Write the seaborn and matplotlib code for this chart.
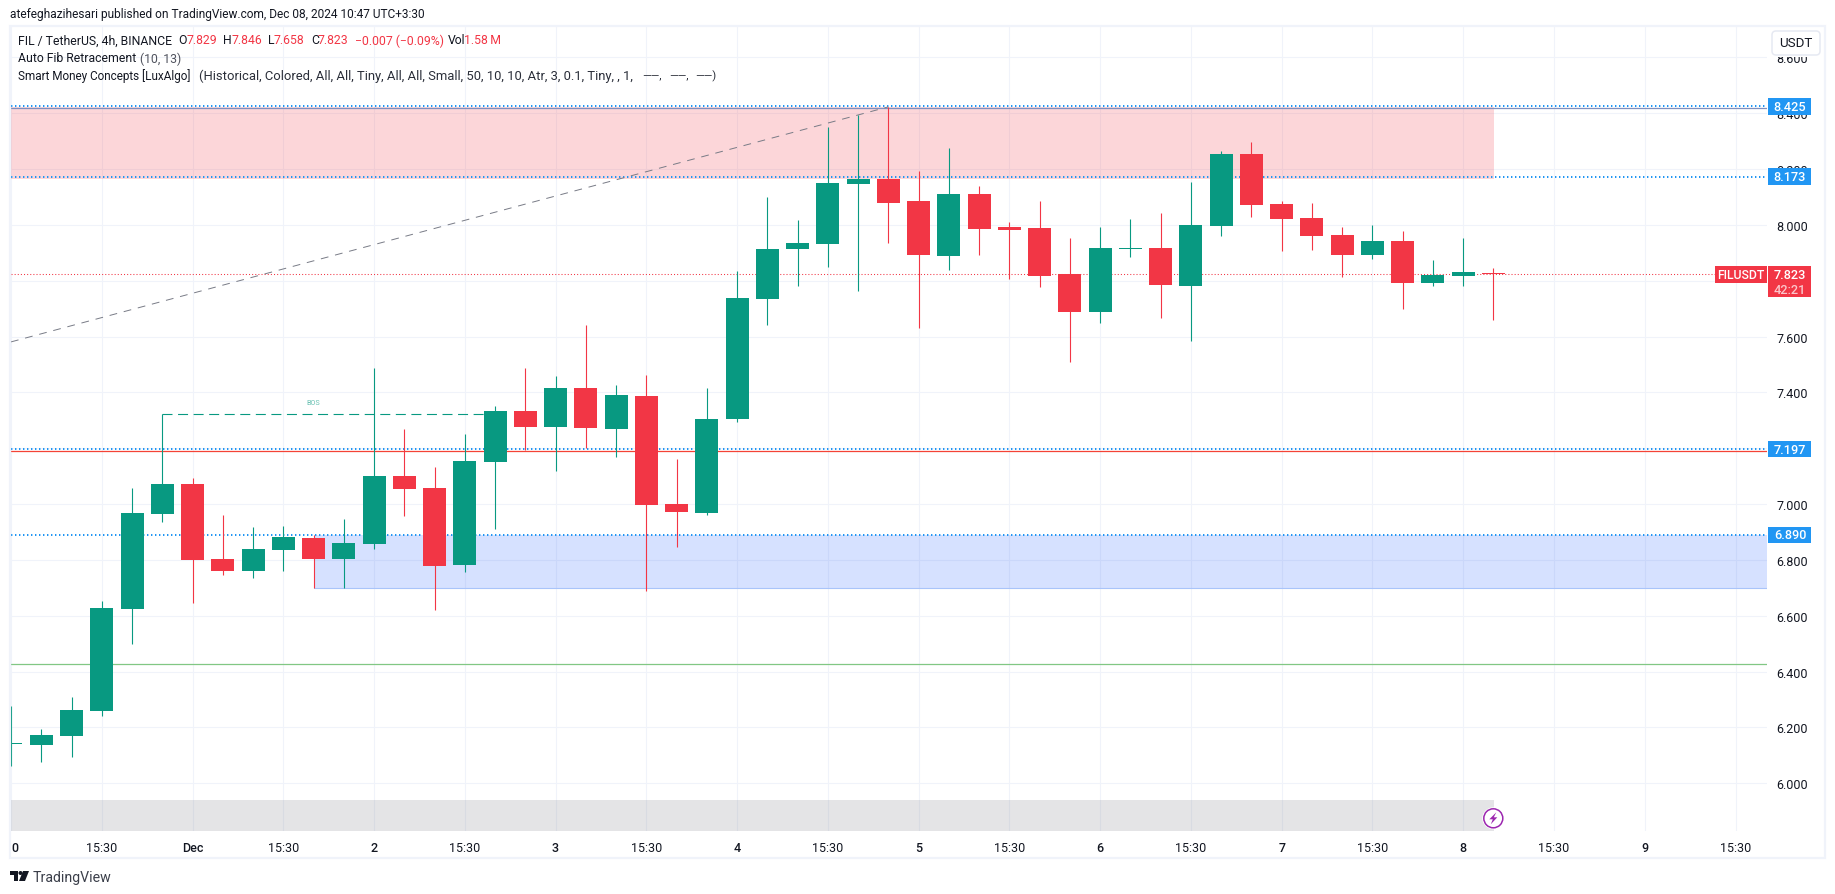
import numpy as np
import pandas as pd
import seaborn as sns
import matplotlib
matplotlib.use("Agg")
import matplotlib.pyplot as plt
from matplotlib.patches import Rectangle, FancyBboxPatch, Circle, Polygon
from matplotlib.transforms import IdentityTransform

opens = [6.140,6.138,6.171,6.260,6.625,6.966,7.072,6.804,6.762,6.837,6.879,6.805,6.857,7.101,7.058,6.782,7.151,
         7.334,7.276,7.416,7.269,7.387,7.001,6.968,7.305,7.735,7.914,7.932,8.147,8.165,8.086,7.889,8.111,7.993,
         7.989,7.824,7.688,7.912,7.918,7.781,7.996,8.254,8.075,8.025,7.964,7.893,7.943,7.792,7.817,7.829]
closes = [6.143,6.173,6.263,6.628,6.968,7.072,6.801,6.762,6.839,6.882,6.805,6.861,7.101,7.054,6.780,7.155,7.334,
          7.276,7.416,7.273,7.391,6.997,6.972,7.305,7.738,7.914,7.936,8.150,8.165,8.079,7.893,8.111,7.986,7.982,
          7.817,7.688,7.918,7.918,7.785,8.000,8.254,8.072,8.021,7.961,7.893,7.943,7.792,7.821,7.832,7.823]
highs = [6.277,6.195,6.309,6.653,7.058,7.322,7.094,6.961,6.918,6.922,6.889,6.947,7.488,7.269,7.133,7.251,7.352,
         7.488,7.459,7.642,7.427,7.463,7.162,7.416,7.835,8.100,8.018,8.351,8.394,8.423,8.193,8.276,8.140,8.011,
         8.086,7.953,7.993,8.021,8.043,8.154,8.265,8.297,8.086,8.079,7.993,8.000,7.979,7.875,7.953,7.846]
lows = [6.063,6.077,6.095,6.242,6.500,6.937,6.647,6.747,6.737,6.762,6.701,6.701,6.839,6.958,6.622,6.757,6.911,
        7.195,7.119,7.201,7.169,6.689,6.847,6.961,7.295,7.642,7.781,7.850,7.764,7.936,7.631,7.839,7.893,7.807,
        7.778,7.509,7.649,7.885,7.667,7.584,7.961,8.029,7.907,7.910,7.814,7.878,7.699,7.781,7.781,7.658]

price_ticks = [8.6, 8.4, 8.2, 8.0, 7.8, 7.6, 7.4, 7.2, 7.0, 6.8, 6.6, 6.4, 6.2, 6.0]
time_pos = [0, 3, 6, 9, 12, 15, 18, 21, 24, 27, 30, 33, 36, 39, 42, 45, 48, 51, 54, 57]
time_labels = ["0", "15:30", "Dec", "15:30", "2", "15:30", "3", "15:30", "4", "15:30", "5", "15:30",
               "6", "15:30", "7", "15:30", "8", "15:30", "9", "15:30"]
supply_zone = (8.423, 8.165)
demand_zone = (6.889, 6.701)
bottom_band = (5.829, 5.940)
dotted_levels = [8.425, 8.173, 7.197, 6.890]
last_price = 7.823
red_level = 7.189
green_level = 6.426
top_level = 8.420
fib_x = [0, 29]
fib_y = [7.581, 8.423]
bos_x = [5, 15.8]
bos_y = [7.322, 7.322]

GREEN, RED, BLUE, INK = "#089981", "#f23645", "#2196f3", "#131722"
GRID = "#f0f3fa"
W, H = 1835, 895
FONT = "Roboto"

sns.set_theme(style="white")
plt.rcParams["font.family"] = [FONT, "DejaVu Sans"]

fig = plt.figure(figsize=(W / 100, H / 100), dpi=100, facecolor="white")
L, R, T, B = 11, 1767, 28, 832
ax = fig.add_axes([L / W, 1 - B / H, (R - L) / W, (B - T) / H])

df = pd.DataFrame({"i": np.arange(len(opens)), "o": opens, "c": closes, "h": highs, "l": lows})
df["up"] = df.c >= df.o
df["base"] = df[["o", "c"]].min(axis=1)
df["size"] = (df.o - df.c).abs()
wicks = df.melt(id_vars=["i", "up"], value_vars=["l", "h"], value_name="price")

sns.lineplot(data=wicks, x="i", y="price", units="i", estimator=None, hue="up",
             palette={True: GREEN, False: RED}, linewidth=0.8, legend=False, ax=ax, zorder=3,
             solid_capstyle="butt", sort=True)
for is_up, col in [(True, GREEN), (False, RED)]:
    sub = df[df.up == is_up]
    sns.barplot(data=sub, x="i", y="size", bottom=sub["base"].values, native_scale=True, orient="x",
                width=0.76, color=col, saturation=1, errorbar=None, linewidth=0, ax=ax, zorder=4)

ax.set_xlim((L - 10.7) / 30.26, (R - 10.7) / 30.26)
ax.set_ylim(5.829, 8.709)
ax.set_xlabel("")
ax.set_ylabel("")
for s in ax.spines.values():
    s.set_visible(False)

ax.set_axisbelow(True)
ax.grid(True, color=GRID, linewidth=0.75)
ax.set_xticks(time_pos, time_labels)
ax.set_yticks(price_ticks, [f"{p:.3f}" for p in price_ticks])
ax.yaxis.tick_right()
ax.tick_params(axis="x", length=0, pad=7, labelsize=9, labelcolor=INK)
ax.tick_params(axis="y", length=0, pad=7, labelsize=9, labelcolor=INK, right=False)
for lab in ax.get_xticklabels():
    if lab.get_text() != "15:30":
        lab.set_fontweight("medium")
    if lab.get_text() == "0":
        lab.set_ha("left")

# zones
ax.axhspan(*supply_zone, xmin=0, xmax=(1494 - L) / (R - L), color=RED, alpha=0.2, linewidth=0, zorder=1)
ax.fill_between([10, ax.get_xlim()[1]], demand_zone[1], demand_zone[0], color="#2962ff", alpha=0.19, linewidth=0, zorder=1)
ax.plot([10, ax.get_xlim()[1]], [demand_zone[1]] * 2, color="#a9c4fa", lw=0.8, zorder=1.2)
ax.axhspan(*bottom_band, xmin=0, xmax=(1494 - L) / (R - L), color="#787b86", alpha=0.2, linewidth=0, zorder=1)

# levels
ax.axhline(top_level, color="#7f8fbf", lw=0.9, zorder=1.5)
ax.axhline(red_level, color="#f44336", lw=0.9, zorder=1.5)
ax.axhline(green_level, color="#81c784", lw=0.9, zorder=1.5)
for lv in dotted_levels:
    ax.axhline(lv, color=BLUE, lw=1.44, linestyle=(0, (0.7, 1.3)), zorder=2)
ax.axhline(last_price, color=RED, lw=0.75, linestyle=(0, (1, 2)), zorder=2)
ax.plot(fib_x, fib_y, color="#787b86", lw=0.7, linestyle=(0, (8, 7)), zorder=2)
ax.plot(bos_x, bos_y, color=GREEN, lw=0.8, linestyle=(0, (9, 5)), zorder=2)
ax.text(10, 7.365, "BOS", color=GREEN, alpha=0.6, fontsize=5.2, ha="center", va="center", zorder=2)

# ---- pixel helpers for the frame, labels, header
px = IdentityTransform()
def Y(yp):
    return H - yp
def rect(x0, y0, x1, y1, fc, ec="none", lw=0, z=5):
    fig.add_artist(Rectangle((x0, Y(y1)), x1 - x0, y1 - y0, transform=px, fc=fc, ec=ec, lw=lw, zorder=z))
def text(x, y, s, color=INK, size=8.8, ha="left", weight="normal", z=6, alpha=None):
    return fig.text(x, Y(y), s, transform=px, color=color, fontsize=size, ha=ha, va="center",
                    fontweight=weight, zorder=z, alpha=alpha)
def price_px(p):
    return H - ax.transData.transform((0, p))[1]

rect(10, 27, 1825, 859, "none", ec=GRID, lw=1.6, z=4)

for lv in dotted_levels:
    yc = price_px(lv)
    rect(1768, yc - 8.3, 1811, yc + 8.3, BLUE)
    text(1790, yc, f"{lv:.3f}", color="white", ha="center", size=9.2, weight="medium")

yc = price_px(last_price)
rect(1715, yc - 8, 1767, yc + 9, RED)
text(1741, yc + .5, "FILUSDT", color="white", ha="center", size=8.8, weight="medium")
rect(1768, yc - 8, 1811, yc + 23, RED)
text(1790, yc + .5, f"{last_price:.3f}", color="white", ha="center", size=9.2, weight="medium")
text(1790, yc + 15, "42:21", color="#fbc5ca", ha="center", size=9.2, weight="medium")

rect(1771, 30, 1821, 58, "white", z=6)
fig.add_artist(FancyBboxPatch((1772, Y(56)), 48, 24, boxstyle="round,pad=0,rounding_size=4", transform=px,
                              fc="white", ec="#e6e9f2", lw=1.1, zorder=7))
text(1796, 44, "USDT", size=9.6, ha="center", z=8)

# header and legend
text(10, 15, "atefeghazihesari published on TradingView.com, Dec 08, 2024 10:47 UTC+3:30", size=8.55)
text(18, 41, "FIL / TetherUS, 4h, BINANCE")
for x, s, c in [(178, "O", INK), (187, "7.829", RED), (223, "H", INK), (231.5, "7.846", RED), (268, "L", INK),
                (274, "7.658", RED), (311, "C", INK), (318, "7.823", RED), (355, "\u22120.007 (\u22120.09%)", RED),
                (447.6, "Vol", INK), (464, "1.58\u2009M", RED)]:
    text(x, 41, s, color=c)
text(18, 59, "Auto Fib Retracement")
text(140, 59, "(10, 13)", color="#50535e")
text(18, 76, "Smart Money Concepts [LuxAlgo]", size=8.5)
text(199, 76, "(Historical, Colored, All, All, Tiny, All, All, Small, 50, 10, 10, Atr, 3, 0.1, Tiny, , 1,",
     size=9.4, color="#2a2e39")
for x, s in [(642, "\u2014\u2014,"), (669, "\u2014\u2014,"), (695, "\u2014\u2014)")]:
    text(x, 76, s, size=8, color="#2a2e39")

# footer logo + wordmark
text(33, 878, "TradingView", size=10.2, color="#3b3f4a")
fig.add_artist(Polygon([(10, Y(872)), (17.5, Y(872)), (17.5, Y(882)), (14, Y(882)), (14, Y(875.5)), (10, Y(875.5))],
                       transform=px, fc=INK, ec="none", zorder=6))
fig.add_artist(Circle((20.5, Y(874)), 2, transform=px, fc=INK, ec="none", zorder=6))
fig.add_artist(Polygon([(23, Y(872)), (29, Y(872)), (25, Y(882)), (19, Y(882))], transform=px, fc=INK, ec="none", zorder=6))

# lightning badge
cx, cy = 1493.3, 819.3
fig.add_artist(Circle((cx, Y(cy)), 11, transform=px, fc="white", ec="none", zorder=6))
fig.add_artist(Circle((cx, Y(cy)), 9.5, transform=px, fc="white", ec="#9c27b0", lw=1.1, zorder=6))
fig.add_artist(Polygon([(cx + 3, Y(cy - 6)), (cx - 4, Y(cy + 1)), (cx - 0.5, Y(cy + 1)), (cx - 2.5, Y(cy + 6)),
                        (cx + 4, Y(cy - 1)), (cx + 0.5, Y(cy - 1))], transform=px, fc="#9c27b0", ec="none", zorder=7))

fig.savefig("out.png", dpi=100, facecolor="white")
